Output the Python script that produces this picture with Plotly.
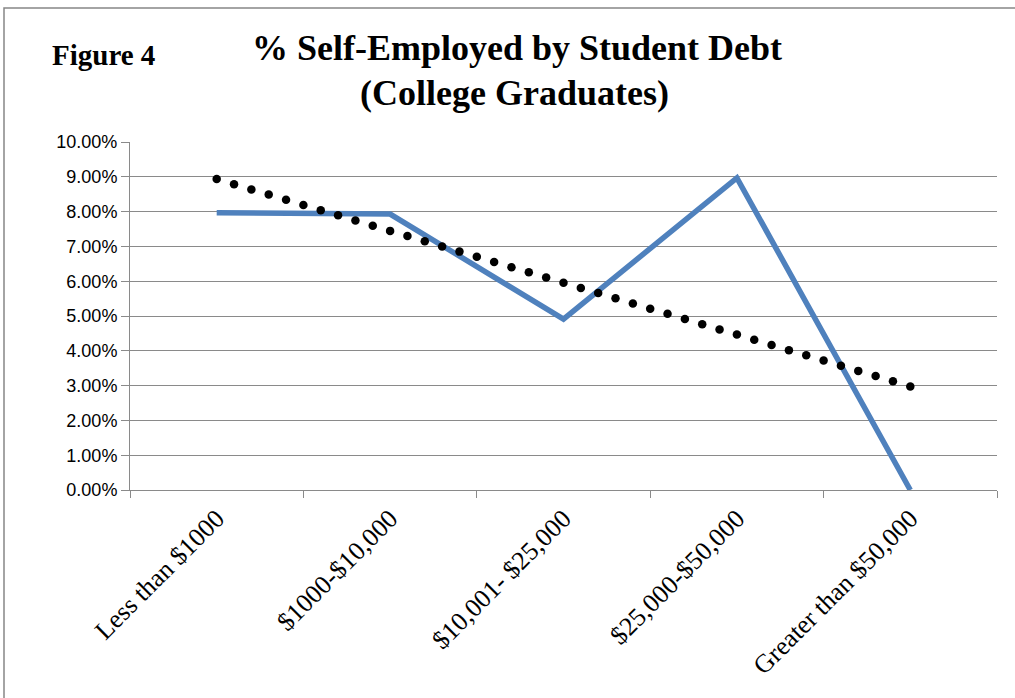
import numpy as np
import plotly.graph_objects as go

# ---- data ----
categories = ["Less than $1000", "$1000-$10,000", "$10,001- $25,000",
              "$25,000-$50,000", "Greater than $50,000"]
pct_self_employed = [7.97, 7.93, 4.91, 8.97, 0.00]
y_tick_vals = [0, 1, 2, 3, 4, 5, 6, 7, 8, 9, 10]
y_tick_text = ["%.2f%%" % v for v in y_tick_vals]

# linear trendline (as in the original spreadsheet chart), drawn as round dots
xi = np.arange(len(pct_self_employed))
slope, intercept = np.polyfit(xi, pct_self_employed, 1)
trend_x = np.linspace(xi[0], xi[-1], 41)
trend_y = intercept + slope * trend_x

# ---- layout geometry (pixels) ----
W, H = 1015, 698
L, R, T, B = 130, 997, 142, 490


def px(x):
    return (x - L) / (R - L)


def py(y):
    return (B - y) / (B - T)


fig = go.Figure()
fig.add_trace(go.Scatter(
    x=categories, y=pct_self_employed, mode="lines",
    line=dict(color="#4F81BD", width=5.5), hoverinfo="skip", showlegend=False))
fig.add_trace(go.Scatter(
    x=trend_x, y=trend_y, mode="markers", xaxis="x2",
    marker=dict(color="#000000", size=8.5, line=dict(width=0)),
    hoverinfo="skip", showlegend=False))

grid = "#8a8a8a"
fig.update_layout(
    width=W, height=H,
    margin=dict(l=L, r=W - R, t=T, b=H - B),
    paper_bgcolor="white", plot_bgcolor="white",
    showlegend=False,
    xaxis=dict(
        type="category", range=[-0.5, 4.5],
        tickson="boundaries", ticks="outside", ticklen=7, tickcolor=grid,
        showgrid=False, showline=True, linecolor=grid, linewidth=1,
        tickangle=-45, ticklabelstandoff=2,
        tickfont=dict(family="Liberation Serif", size=26, color="black"),
        zeroline=False),
    xaxis2=dict(
        type="linear", range=[-0.5, 4.5], overlaying="x", visible=False,
        showgrid=False, zeroline=False),
    yaxis=dict(
        range=[0, 10], tickvals=y_tick_vals, ticktext=y_tick_text,
        ticks="outside", ticklen=8, tickcolor=grid,
        showgrid=True, gridcolor=grid, gridwidth=1,
        showline=True, linecolor=grid, linewidth=1,
        zeroline=False,
        tickfont=dict(family="Liberation Sans", size=18, color="black")),
    annotations=[
        dict(text="<b>% Self-Employed by Student Debt</b>", xref="paper", yref="paper",
             x=px(517), y=py(48), xanchor="center", yanchor="middle", showarrow=False,
             font=dict(family="Liberation Serif", size=36, color="black")),
        dict(text="<b>(College Graduates)</b>", xref="paper", yref="paper",
             x=px(514), y=py(93), xanchor="center", yanchor="middle", showarrow=False,
             font=dict(family="Liberation Serif", size=36, color="black")),
        dict(text="<b>Figure 4</b>", xref="paper", yref="paper",
             x=px(103), y=py(55), xanchor="center", yanchor="middle", showarrow=False,
             font=dict(family="Liberation Serif", size=29, color="black")),
    ],
    shapes=[
        dict(type="rect", xref="paper", yref="paper",
             x0=px(4), y0=py(712), x1=px(1030), y1=py(8),
             line=dict(color="#868686", width=1.5), fillcolor="rgba(0,0,0,0)", layer="below"),
    ],
)

fig.write_html("out.html")
